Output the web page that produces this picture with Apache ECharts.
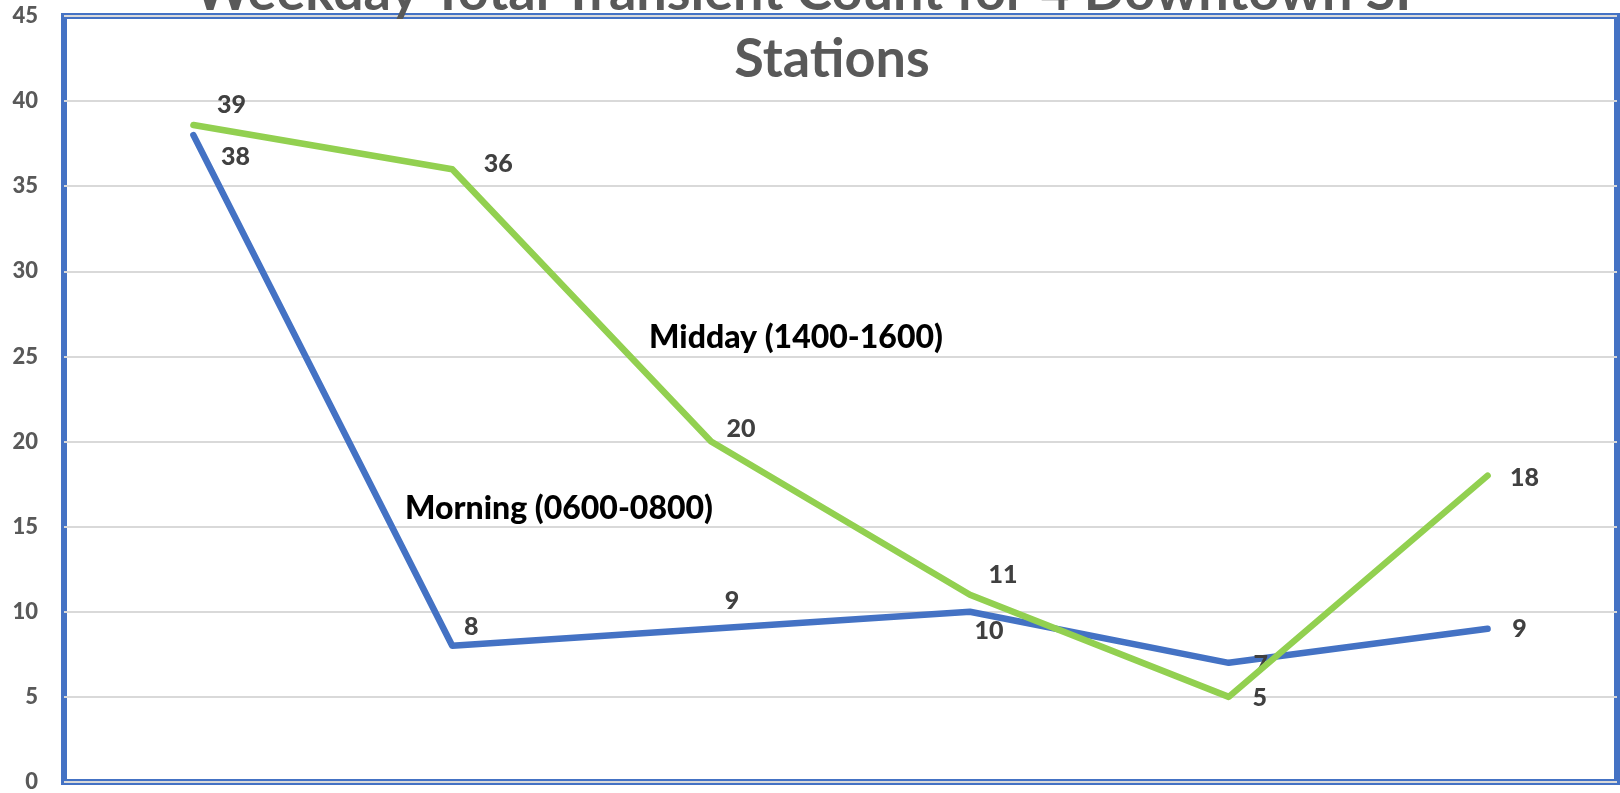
<!DOCTYPE html>
<html>
<head>
<meta charset="utf-8">
<script src="https://cdn.jsdelivr.net/npm/echarts@6/dist/echarts.min.js"></script>
<style>
html,body{margin:0;padding:0;background:#fff;}
#c{width:1620px;height:793px;}
</style>
</head>
<body>
<div id="c"></div>
<script>
// ---- data ----
const categories = ['1', '2', '3', '4', '5', '6'];
const morningValues = [38, 8, 9, 10, 7, 9];
const middayValues = [38.6, 36, 20, 11, 5, 18];
const yTicks = [0, 5, 10, 15, 20, 25, 30, 35, 40, 45];
const titleLines = ['Weekday Total Transient Count for 4 Downtown SF', 'Stations'];
const seriesNames = ['Morning (0600-0800)', 'Midday (1400-1600)'];

// ---- label placement (style only) ----
const morningOffsets = [[42,22],[19,-19],[21,-28],[19,19],[32,2],[32,0]];
const middayOffsets  = [[38,-20],[46,-5],[30,-13],[33,-20],[31,1],[37,2]];

const FONT = 'Lato';
const chart = echarts.init(document.getElementById('c'));

function mkData(vals, offs){
  return vals.map((v,i)=>({value:v, label:{offset:offs[i]}}));
}
const labelBase = {
  show:true, position:'inside', fontFamily:FONT, fontWeight:900,
  fontSize:25, color:'#404040',
  formatter: p => Math.round(p.value)
};

chart.setOption({
  animation:false,
  backgroundColor:'#ffffff',
  grid:{left:64, right:3, top:16, bottom:6, show:true, borderColor:'#4472C4', borderWidth:6, backgroundColor:'transparent'},
  xAxis:{type:'category', data:categories, boundaryGap:true,
    axisLabel:{show:false}, axisTick:{show:false}, axisLine:{show:false}, splitLine:{show:false}},
  yAxis:{type:'value', min:yTicks[0], max:yTicks[yTicks.length-1], interval:5,
    axisLine:{show:false}, axisTick:{show:false},
    axisLabel:{fontFamily:FONT, fontWeight:900, fontSize:22, color:'#595959', margin:26},
    splitLine:{lineStyle:{color:'#d9d9d9', width:2}}},
  series:[
    {name:seriesNames[0], type:'line', data:mkData(morningValues, morningOffsets),
     symbol:'circle', symbolSize:1, showSymbol:true,
     itemStyle:{color:'#4472C4'},
     lineStyle:{color:'#4472C4', width:6.5, cap:'round', join:'round'},
     label:labelBase, z:3},
    {name:seriesNames[1], type:'line', data:mkData(middayValues, middayOffsets),
     symbol:'circle', symbolSize:1, showSymbol:true,
     itemStyle:{color:'#92D050'},
     lineStyle:{color:'#92D050', width:6.5, cap:'round', join:'round'},
     label:labelBase, z:4}
  ],
  graphic:[
    {type:'text', left:'center', z:100, x:0, top:-34,
     style:{text:titleLines[0], font:'bold 54px '+FONT, fill:'#595959'}},
    {type:'text', z:100, x:832, y:60,
     style:{text:titleLines[1], font:'bold 54px '+FONT, fill:'#595959', align:'center', verticalAlign:'middle'}},
    {type:'text', z:100, x:796, y:338,
     style:{text:seriesNames[1], font:'900 32px '+FONT, fill:'#000000', align:'center', verticalAlign:'middle'}},
    {type:'text', z:100, x:559, y:509,
     style:{text:seriesNames[0], font:'900 32px '+FONT, fill:'#000000', align:'center', verticalAlign:'middle'}}
  ]
});
</script>
</body>
</html>
